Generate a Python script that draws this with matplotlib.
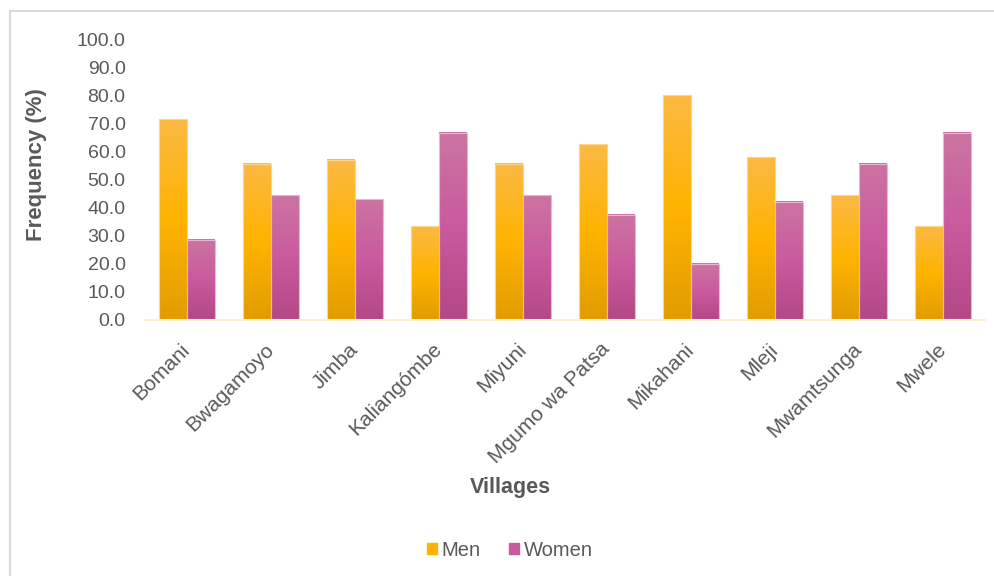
import numpy as np
import matplotlib.pyplot as plt
from matplotlib.colors import LinearSegmentedColormap
from matplotlib.lines import Line2D

plt.rcParams['font.family'] = ['Liberation Sans', 'DejaVu Sans']

villages = ['Bomani', 'Bwagamoyo', 'Jimba', 'Kaliangómbe', 'Miyuni',
            'Mgumo wa Patsa', 'Mikahani', 'Mleji', 'Mwamtsunga', 'Mwele']
men = [71.4, 55.6, 57.1, 33.3, 55.6, 62.5, 80.0, 57.9, 44.4, 33.3]
women = [28.6, 44.4, 42.9, 66.7, 44.4, 37.5, 20.0, 42.1, 55.6, 66.7]

txt = '#595959'
# excel-ish vertical gradients (bottom -> middle -> top)
men_grad = LinearSegmentedColormap.from_list('m', ['#E29C00', '#FFB300', '#FBB944'])
women_grad = LinearSegmentedColormap.from_list('w', ['#B44886', '#C95A9E', '#CC74A2'])

fig = plt.figure(figsize=(9.95, 5.76), dpi=100)
ax = fig.add_axes([145 / 995, 256 / 576, 840 / 995, 281 / 576])

x = np.arange(len(villages))
w = 0.33
b_men = ax.bar(x - w / 2, men, w, color='#FFB300', edgecolor='#FCD68C', linewidth=0.8, label='Men')
b_women = ax.bar(x + w / 2, women, w, color='#C95A9E', edgecolor='#EAB6D4', linewidth=0.8, label='Women')

# paint gradient into each bar
grad = np.linspace(0, 1, 256).reshape(-1, 1)
for bars, cm in [(b_men, men_grad), (b_women, women_grad)]:
    for r in bars:
        x0, h, bw = r.get_x(), r.get_height(), r.get_width()
        ax.imshow(grad, cmap=cm, origin='lower', aspect='auto',
                  extent=(x0, x0 + bw, 0, h), zorder=r.get_zorder() + 0.1)
        r.set_zorder(r.get_zorder() + 0.2)
        r.set_facecolor('none')

ax.set_xlim(-0.5, len(villages) - 0.5)
ax.set_ylim(0, 100)
ax.set_yticks(np.arange(0, 101, 10))
ax.set_yticklabels([f'{v:.1f}' for v in np.arange(0, 101, 10)])
ax.set_xticks(x)
ax.set_xticklabels(villages, rotation=45, ha='right', va='center', rotation_mode='anchor')

for s in ['top', 'right', 'left']:
    ax.spines[s].set_visible(False)
ax.spines['bottom'].set_color('#FDEFCF')
ax.spines['bottom'].set_linewidth(1.5)
ax.tick_params(axis='y', length=0, labelsize=14, colors=txt, pad=14)
ax.tick_params(axis='x', length=0, labelsize=15, colors=txt, pad=19)

fig.text(37 / 995, 1 - 165 / 576, 'Frequency (%)', fontsize=16, fontweight='bold',
         color=txt, ha='center', va='center', rotation=90)
fig.text(510 / 995, 1 - 487 / 576, 'Villages', fontsize=15.5, fontweight='bold',
         color=txt, ha='center', va='center')

# legend with the flat mid colours
handles = [plt.Rectangle((0, 0), 1, 1, color='#FFB300'),
           plt.Rectangle((0, 0), 1, 1, color='#C95A9E')]
fig.legend(handles, ['Men', 'Women'], loc='center', bbox_to_anchor=(510 / 995, 1 - 550 / 576),
           ncol=2, frameon=False, fontsize=14.5, handlelength=0.5, handleheight=0.5,
           handletextpad=0.25, columnspacing=1.4, labelcolor=txt)

# outer chart-area border (top and left visible)
fig.add_artist(Line2D([10 / 995, 1], [1 - 11 / 576] * 2, color='#D9D9D9', lw=1.5))
fig.add_artist(Line2D([10 / 995] * 2, [0, 1 - 11 / 576], color='#D9D9D9', lw=1.5))

fig.savefig('out.png', dpi=100)
